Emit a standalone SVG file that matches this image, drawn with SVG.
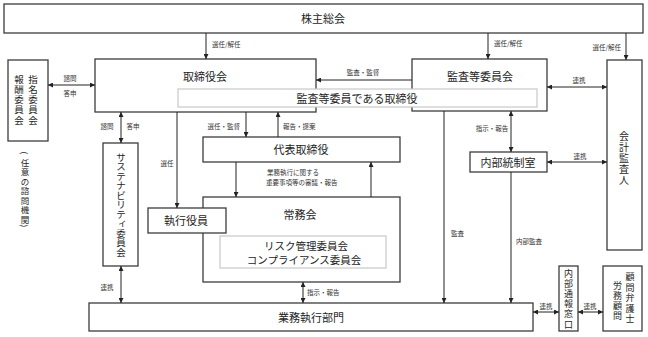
<svg xmlns="http://www.w3.org/2000/svg" width="648" height="337" viewBox="0 0 648 337">
<defs>
<marker id="ah" viewBox="0 0 6 6" refX="6" refY="3" markerWidth="5" markerHeight="5" orient="auto-start-reverse" markerUnits="userSpaceOnUse">
<path d="M0,0 L6,3 L0,6 z" fill="#222"/>
</marker>
<style>
.box{fill:#fff;stroke:#3c3c3c;stroke-width:1.3}
.inner{fill:#fff;stroke:#c8c8c8;stroke-width:1.2}
.t{font-family:"Noto Sans CJK JP","Noto Sans",sans-serif;font-size:11px;fill:#1e1e1e;text-anchor:middle;dominant-baseline:central}
.s{font-family:"Noto Sans CJK JP","Noto Sans",sans-serif;font-size:6.5px;fill:#333;dominant-baseline:central}
.c{stroke:#222;stroke-width:1;fill:none}
.e{marker-end:url(#ah)}
.b{marker-start:url(#ah);marker-end:url(#ah)}
</style>
</defs>
<g id="kabunushi"><rect class="box" x="4" y="4" width="639" height="29"/><text class="t" x="323" y="18">株主総会</text></g>
<g id="torishimariyakukai"><rect class="box" x="95" y="59" width="221" height="53"/><text class="t" x="205" y="76">取締役会</text></g>
<g id="kansatouiinkai"><rect class="box" x="412" y="59" width="135" height="52"/><text class="t" x="480" y="76">監査等委員会</text></g>
<g id="kansatouiin-torishimariyaku"><rect class="inner" x="178" y="89" width="359" height="18"/><text class="t" x="357" y="98">監査等委員である取締役</text></g>
<g id="shimei"><rect class="box" x="8" y="60" width="40" height="81"/>
<text class="t" style="font-size:9.5px" x="33 33 33 33 33" y="78.5 88.8 99.1 109.4 119.7">指名委員会</text>
<text class="t" style="font-size:9.5px" x="19 19 19 19 19" y="78.5 88.8 99.1 109.4 119.7">報酬委員会</text></g>
<g id="nini">
<text class="t" style="font-size:8.5px" transform="rotate(90 25 153)" x="25" y="153">(</text>
<text class="t" style="font-size:8.5px" x="25 25 25 25 25 25 25" y="161.5 171 180.5 190 199.5 209 218.5">任意の諮問機関</text>
<text class="t" style="font-size:8.5px" transform="rotate(90 25 226)" x="25" y="226">)</text>
</g>
<g id="sustainability"><rect class="box" x="103" y="143" width="35" height="123"/>
<text class="t" style="font-size:9.5px" x="121 121 121 121 121 121 121 122.5 121 121 121" y="156.8 166.3 175.8 185.3 194.8 204.3 213.8 221.8 232.8 242.3 251.8">サステナビリティ委員会</text></g>
<g id="daihyo"><rect class="box" x="203" y="137" width="197" height="25"/><text class="t" x="301" y="149">代表取締役</text></g>
<g id="jomukai"><rect class="box" x="203" y="197" width="197" height="85"/><text class="t" x="300" y="214">常務会</text><rect class="inner" x="220" y="236" width="166" height="32"/><text class="t" x="306" y="245" style="font-size:10.5px">リスク管理委員会</text><text class="t" x="304" y="259" style="font-size:10.5px">コンプライアンス委員会</text></g>
<g id="shikkoyakuin"><rect class="box" x="148" y="208" width="78" height="25"/><text class="t" x="186" y="220">執行役員</text></g>
<g id="gyomu"><rect class="box" x="89" y="303" width="444" height="28"/><text class="t" x="311" y="317">業務執行部門</text></g>
<g id="naibutosei"><rect class="box" x="470" y="152" width="77" height="20"/><text class="t" x="508" y="162">内部統制室</text></g>
<g id="kaikei"><rect class="box" x="607" y="60" width="35" height="190"/>
<text class="t" style="font-size:10px" x="624 624 624 624 624" y="135.5 146.5 157.5 168.5 179.5">会計監査人</text></g>
<g id="naibutsuho"><rect class="box" x="559" y="266" width="19" height="65"/>
<text class="t" style="font-size:9px" x="568.5 568.5 568.5 568.5 568.5 568.5" y="273.5 283.6 293.7 303.8 313.9 324">内部通報窓口</text></g>
<g id="komon"><rect class="box" x="603" y="266" width="39" height="65"/>
<text class="t" style="font-size:9px" x="630 630 630 630 630" y="276.5 287 297.5 308 318.5">顧問弁護士</text>
<text class="t" style="font-size:9px" x="617.5 617.5 617.5 617.5" y="285 295.3 305.6 315.9">労務顧問</text></g>
<g id="connectors">
<line class="c e" x1="206" y1="33" x2="206" y2="59"/><text class="s" x="212" y="44">選任/解任</text>
<line class="c e" x1="488" y1="33" x2="488" y2="59"/><text class="s" x="494" y="43">選任/解任</text>
<line class="c e" x1="626" y1="33" x2="626" y2="60"/><text class="s" x="621" y="47" text-anchor="end">選任/解任</text>
<line class="c e" x1="412" y1="80" x2="316" y2="80"/><text class="s" x="363" y="72" text-anchor="middle">監査・監督</text>
<line class="c b" x1="547" y1="87" x2="607" y2="87"/><text class="s" x="579" y="80" text-anchor="middle">連携</text>
<line class="c b" x1="48" y1="85" x2="95" y2="85"/><text class="s" x="70" y="78" text-anchor="middle">諮問</text><text class="s" x="70" y="93" text-anchor="middle">答申</text>
<line class="c b" x1="121" y1="112" x2="121" y2="143"/><text class="s" x="107" y="126" text-anchor="middle">諮問</text><text class="s" x="133" y="126" text-anchor="middle">答申</text>
<line class="c e" x1="177" y1="112" x2="177" y2="208"/><text class="s" x="167" y="163" text-anchor="middle">選任</text>
<line class="c e" x1="246" y1="112" x2="246" y2="137"/><text class="s" x="240" y="126" text-anchor="end">選任・監督</text>
<line class="c e" x1="278" y1="137" x2="278" y2="112"/><text class="s" x="283" y="126">報告・提案</text>
<line class="c e" x1="236" y1="162" x2="236" y2="197"/>
<line class="c e" x1="371" y1="197" x2="371" y2="162"/>
<text class="s" x="267" y="172">業務執行に関する</text><text class="s" x="266" y="182">重要事項等の審議・報告</text>
<line class="c b" x1="303" y1="282" x2="303" y2="303"/><text class="s" x="307" y="292">指示・報告</text>
<line class="c e" x1="444" y1="111" x2="444" y2="303"/><text class="s" x="451" y="233">監査</text>
<line class="c b" x1="511" y1="111" x2="511" y2="152"/><text class="s" x="492" y="128" text-anchor="middle">指示・報告</text>
<line class="c b" x1="547" y1="162" x2="607" y2="162"/><text class="s" x="580" y="156" text-anchor="middle">連携</text>
<line class="c e" x1="511" y1="172" x2="511" y2="303"/><text class="s" x="516" y="241">内部監査</text>
<line class="c b" x1="121" y1="266" x2="121" y2="303"/><text class="s" x="107" y="287" text-anchor="middle">連携</text>
<line class="c b" x1="533" y1="312" x2="559" y2="312"/><text class="s" x="546" y="306" text-anchor="middle">連携</text>
<line class="c b" x1="578" y1="312" x2="603" y2="312"/><text class="s" x="590" y="306" text-anchor="middle">連携</text>
</g>
</svg>
